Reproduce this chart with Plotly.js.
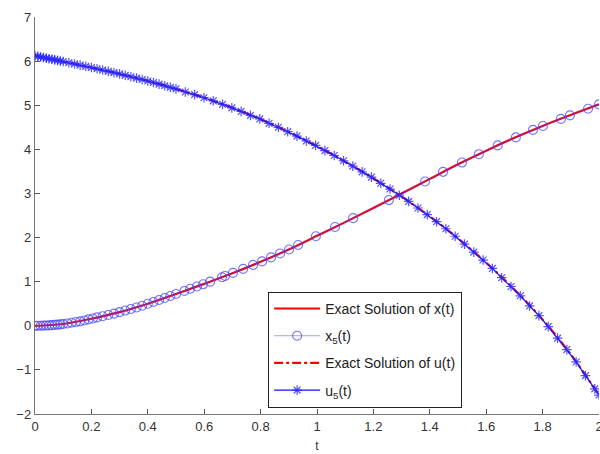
<!DOCTYPE html>
<html>
<head>
<meta charset="utf-8">
<script src="https://cdn.plot.ly/plotly-3.0.1.min.js"></script>
<style>html,body{margin:0;padding:0;background:#fff;}#chart{width:600px;height:454px;}</style>
</head>
<body>
<div id="chart"></div>
<script>
// Exact solutions
const tExact = [0,0.1,0.2,0.3,0.4,0.5,0.6,0.7,0.8,0.9,1.0,1.1,1.2,1.3,1.4,1.5,1.6,1.7,1.8,1.9,2.0];
const xExact = [0,0.04,0.16,0.31,0.50,0.72,0.95,1.19,1.45,1.73,2.04,2.35,2.67,3.00,3.33,3.66,3.97,4.26,4.53,4.78,5.02];
const uExact = [6.12,5.99,5.855,5.71,5.55,5.37,5.17,4.94,4.68,4.39,4.07,3.72,3.34,2.93,2.48,1.98,1.43,0.82,0.14,-0.65,-1.57];

// Approximate solution x5(t) (circle markers)
const tX5 = [0,0.01,0.02,0.03,0.04,0.05,0.06,0.07,0.08,0.09,0.10,0.115,0.13,0.145,0.16,0.175,0.19,0.205,0.22,0.24,0.26,0.28,0.30,0.32,0.34,0.36,0.38,0.40,0.42,0.44,0.46,0.48,0.50,0.53,0.55,0.574,0.596,0.621,0.663,0.674,0.702,0.738,0.773,0.805,0.837,0.869,0.901,0.933,0.996,1.064,1.128,1.255,1.383,1.447,1.514,1.574,1.641,1.705,1.766,1.801,1.865,1.897,1.961,2.0];
const vX5 = [0,0.0004,0.0016,0.0036,0.0064,0.01,0.014,0.02,0.026,0.032,0.04,0.053,0.068,0.084,0.10,0.12,0.145,0.166,0.19,0.215,0.245,0.275,0.31,0.345,0.38,0.415,0.455,0.50,0.54,0.585,0.63,0.675,0.72,0.79,0.84,0.89,0.94,1.00,1.10,1.13,1.20,1.29,1.38,1.46,1.55,1.64,1.73,1.83,2.03,2.24,2.44,2.85,3.27,3.49,3.70,3.89,4.09,4.27,4.44,4.53,4.69,4.77,4.92,5.02];

// Approximate control u5(t) (asterisk markers)
const tU5 = [0,0.01,0.02,0.03,0.04,0.05,0.06,0.07,0.08,0.09,0.10,0.12,0.14,0.16,0.18,0.20,0.22,0.24,0.26,0.28,0.30,0.32,0.34,0.36,0.38,0.40,0.42,0.44,0.46,0.48,0.50,0.533,0.566,0.599,0.632,0.665,0.698,0.731,0.764,0.797,0.830,0.863,0.896,0.929,0.962,0.995,1.028,1.061,1.094,1.127,1.160,1.193,1.226,1.259,1.292,1.325,1.358,1.391,1.424,1.457,1.490,1.523,1.556,1.589,1.622,1.655,1.688,1.721,1.754,1.787,1.820,1.853,1.886,1.919,1.952,1.985,2.0];
const vU5 = [6.12,6.107,6.094,6.081,6.068,6.055,6.042,6.029,6.016,6.003,5.99,5.963,5.936,5.909,5.882,5.855,5.826,5.797,5.768,5.739,5.71,5.678,5.646,5.614,5.582,5.55,5.514,5.478,5.442,5.406,5.37,5.30,5.24,5.17,5.10,5.02,4.94,4.86,4.77,4.69,4.59,4.50,4.40,4.30,4.19,4.09,3.97,3.86,3.74,3.62,3.49,3.37,3.23,3.10,2.96,2.82,2.67,2.52,2.36,2.20,2.03,1.85,1.67,1.49,1.30,1.09,0.89,0.68,0.45,0.23,-0.02,-0.28,-0.54,-0.82,-1.13,-1.43,-1.57];

const xTicks = [0,0.2,0.4,0.6,0.8,1,1.2,1.4,1.6,1.8,2];
const xTickText = ['0','0.2','0.4','0.6','0.8','1','1.2','1.4','1.6','1.8','2'];
const yTicks = [-2,-1,0,1,2,3,4,5,6,7];

const traces = [
  {x: tExact, y: xExact, mode: 'lines', name: 'Exact Solution of x(t)', legendgroup: 'a',
   line: {color: '#ff0000', width: 2.2, shape: 'spline'}},
  {x: tX5, y: vX5, mode: 'lines+markers', name: 'x<sub>5</sub>(t)', legendgroup: 'b',
   line: {color: 'rgba(60,60,255,0.7)', width: 0.7},
   marker: {symbol: 'circle-open', size: 9, color: 'rgba(70,70,255,0.75)', line: {width: 1.1}}},
  {x: tExact, y: uExact, mode: 'lines', name: 'Exact Solution of u(t)', legendgroup: 'c',
   line: {color: '#ff0000', width: 2.2, dash: 'dashdot', shape: 'spline'}},
  {x: tU5, y: vU5, mode: 'lines+markers', name: 'u<sub>5</sub>(t)', legendgroup: 'd',
   line: {color: '#1010ff', width: 1.2},
   marker: {symbol: 'asterisk-open', size: 8, color: 'rgba(40,40,255,0.8)', line: {width: 1.2, color: 'rgba(40,40,255,0.8)'}}}
];

const layout = {
  width: 600, height: 454,
  margin: {l: 35, r: 1, t: 17, b: 40},
  paper_bgcolor: '#fff', plot_bgcolor: '#fff',
  font: {family: 'Liberation Sans, Arial, sans-serif', size: 13, color: '#333'},
  showlegend: true,
  legend: {x: 0.413, y: 0.308, xanchor: 'left', yanchor: 'top',
    bgcolor: '#fff', bordercolor: '#222', borderwidth: 1.2, itemwidth: 46,
    font: {size: 14, color: '#222'}, traceorder: 'grouped', tracegroupgap: 6},
  xaxis: {range: [0, 2], tickvals: xTicks, ticktext: xTickText, ticks: 'inside', ticklen: 5,
    tickcolor: '#555', showline: true, linecolor: '#777', linewidth: 1.2, mirror: false,
    showgrid: false, zeroline: false, tickfont: {size: 13, color: '#333'},
    ticklabeloverflow: 'allow',
    title: {text: 't', font: {size: 12, color: '#333'}, standoff: 8}},
  yaxis: {range: [-2, 7], tickvals: yTicks, ticks: 'inside', ticklen: 5,
    tickcolor: '#555', showline: true, linecolor: '#777', linewidth: 1.2, mirror: false,
    showgrid: false, zeroline: false, tickfont: {size: 13, color: '#333'}}
};

Plotly.newPlot('chart', traces, layout, {displayModeBar: false, staticPlot: true});
</script>
</body>
</html>
